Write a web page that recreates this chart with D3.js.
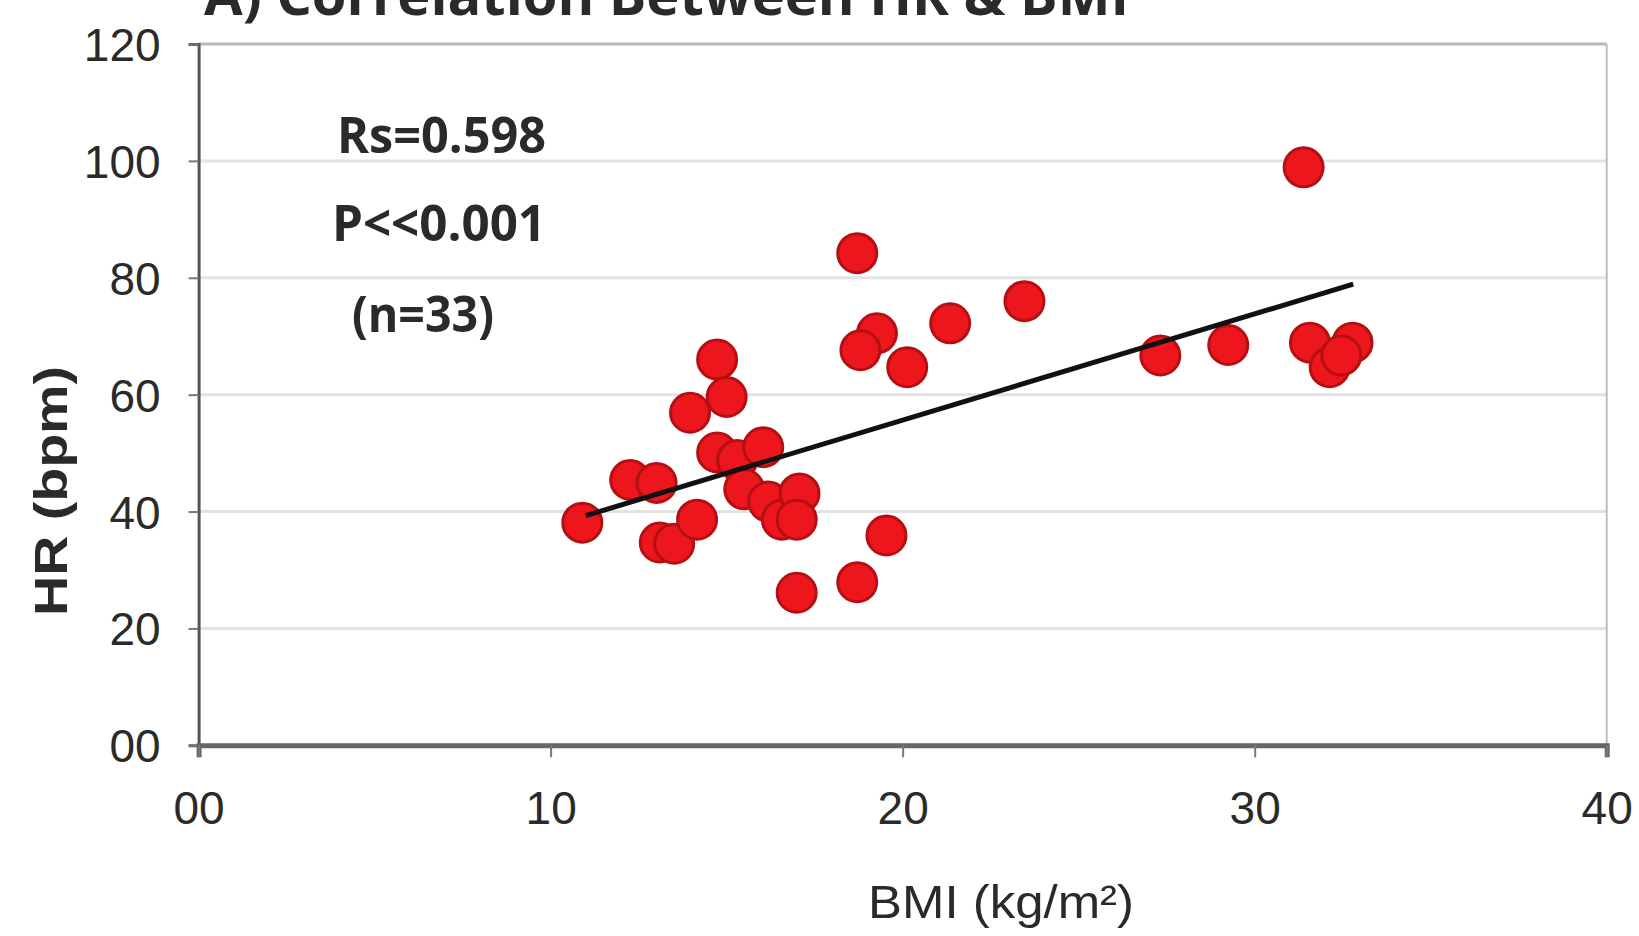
<!DOCTYPE html>
<html>
<head>
<meta charset="utf-8">
<script src="https://cdn.jsdelivr.net/npm/d3@7"></script>
<style>
  body { margin: 0; background: #fff; }
  svg { display: block; }
  .tick-label { font-family: "Liberation Sans", Arial, sans-serif; fill: #2a2a2a; }
  .note { font-family: "Open Sans", "Liberation Sans", sans-serif; font-weight: 700; fill: #2a2a2a; }
</style>
</head>
<body>
<div id="chart"></div>
<script>
const bmi = [10.9, 12.26, 13.01, 13.1, 13.51, 14.16, 14.73, 15.0, 13.96, 14.73, 15.3,
  16.04, 15.5, 16.18, 16.57, 17.07, 16.99, 16.99, 18.71, 18.71, 19.54, 19.27, 20.13,
  18.8, 21.35, 23.46, 27.32, 29.25, 31.39, 31.57, 32.78, 32.13, 32.46];
const hr = [38.1, 45.4, 44.9, 34.7, 34.5, 38.6, 66.0, 59.6, 56.9, 50.1, 48.8,
  51.0, 43.8, 41.7, 38.6, 43.1, 38.6, 26.1, 84.2, 27.9, 35.9, 70.5, 64.7,
  67.6, 72.2, 76.0, 66.7, 68.5, 98.9, 68.9, 68.9, 64.7, 66.7];
const trendBmi = [11.0, 32.8];
const trendHr = [39.3, 78.9];
const xTicks = [0, 10, 20, 30, 40];
const yTicks = [0, 20, 40, 60, 80, 100, 120];
const notes = ["Rs=0.598", "P<<0.001", "(n=33)"];

const width = 1639;
const height = 936;
const plotLeft = 198.6, plotRight = 1606.7, plotTop = 44, plotBottom = 745.3;

const x = d3.scaleLinear().domain([0, 40]).range([plotLeft, plotRight]);
const y = d3.scaleLinear().domain([0, 120]).range([plotBottom, plotTop]);
const fmt = d => d === 0 ? "00" : String(d);

const svg = d3.select("#chart").append("svg")
  .attr("width", width)
  .attr("height", height);

svg.append("rect").attr("width", width).attr("height", height).attr("fill", "#fff");

// title, cut off by the top edge like in the source image
svg.append("text")
  .attr("class", "note")
  .attr("x", 204)
  .attr("y", 15)
  .attr("font-size", 56)
  .attr("textLength", 925)
  .attr("lengthAdjust", "spacingAndGlyphs")
  .text("A) Correlation Between HR & BMI");

// gridlines
svg.append("g")
  .selectAll("line")
  .data(yTicks.filter(d => d > 0))
  .join("line")
  .attr("x1", plotLeft).attr("x2", plotRight)
  .attr("y1", d => y(d)).attr("y2", d => y(d))
  .attr("stroke", d => d === 120 ? "#b8b8b8" : "#e2e2e2")
  .attr("stroke-width", 3);

// right border
svg.append("line")
  .attr("x1", plotRight).attr("x2", plotRight)
  .attr("y1", plotTop).attr("y2", plotBottom)
  .attr("stroke", "#bdbdbd").attr("stroke-width", 2);

// y axis
const yAxis = svg.append("g")
  .attr("transform", `translate(${plotLeft},0)`)
  .call(d3.axisLeft(y).tickValues(yTicks).tickFormat(fmt).tickSize(10).tickPadding(28));
yAxis.select(".domain").attr("stroke", "#555").attr("stroke-width", 3);
yAxis.selectAll(".tick line").attr("stroke", "#777").attr("stroke-width", 2);
yAxis.selectAll(".tick text").attr("class", "tick-label").attr("font-size", 46)
  .attr("dy", "0.36em");

// x axis
const xAxis = svg.append("g")
  .attr("transform", `translate(0,${plotBottom})`)
  .call(d3.axisBottom(x).tickValues(xTicks).tickFormat(fmt).tickSize(12).tickPadding(34));
xAxis.select(".domain").attr("stroke", "#666").attr("stroke-width", 5);
xAxis.selectAll(".tick line").attr("stroke", "#777").attr("stroke-width", 2);
xAxis.selectAll(".tick text").attr("class", "tick-label").attr("font-size", 46);

// points
svg.append("g")
  .selectAll("circle")
  .data(bmi.map((b, i) => ({ b, h: hr[i] })))
  .join("circle")
  .attr("cx", d => x(d.b))
  .attr("cy", d => y(d.h))
  .attr("r", 19.5)
  .attr("fill", "#ec161c")
  .attr("stroke", "#b50f14")
  .attr("stroke-width", 3);

// trend line
svg.append("path")
  .datum(trendBmi.map((b, i) => [b, trendHr[i]]))
  .attr("d", d3.line().x(d => x(d[0])).y(d => y(d[1])))
  .attr("stroke", "#111")
  .attr("stroke-width", 5)
  .attr("fill", "none");

// annotation
const noteLayout = [
  { x: 337, y: 153, w: 209 },
  { x: 332, y: 241, w: 214 },
  { x: 352, y: 332, w: 142 }
];
svg.append("g")
  .selectAll("text")
  .data(notes)
  .join("text")
  .attr("class", "note")
  .attr("x", (d, i) => noteLayout[i].x)
  .attr("y", (d, i) => noteLayout[i].y)
  .attr("font-size", 50)
  .attr("textLength", (d, i) => noteLayout[i].w)
  .attr("lengthAdjust", "spacingAndGlyphs")
  .text(d => d);

// axis titles
svg.append("text")
  .attr("class", "tick-label")
  .attr("x", 1001)
  .attr("y", 918)
  .attr("text-anchor", "middle")
  .attr("font-size", 46)
  .attr("textLength", 266)
  .attr("lengthAdjust", "spacingAndGlyphs")
  .text("BMI (kg/m²)");

svg.append("text")
  .attr("class", "tick-label")
  .attr("transform", "translate(67,491) rotate(-90)")
  .attr("text-anchor", "middle")
  .attr("font-size", 46)
  .attr("font-weight", 700)
  .attr("textLength", 250)
  .attr("lengthAdjust", "spacingAndGlyphs")
  .text("HR (bpm)");
</script>
</body>
</html>
